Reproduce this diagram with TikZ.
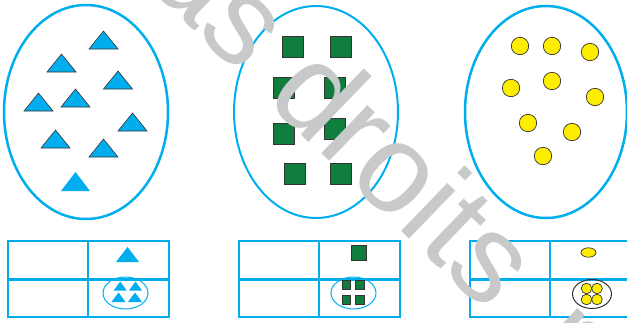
\documentclass[tikz,border=0pt]{standalone}
\usepackage{fontspec}
\newfontfamily\wmfont{Liberation Sans}
\definecolor{cy}{HTML}{00AEEF}
\definecolor{gr}{HTML}{0F7D3C}
\definecolor{ye}{HTML}{FFED00}
\definecolor{wmgray}{HTML}{C8C9CA}
\definecolor{edge}{HTML}{333333}
\tikzset{
  bigoval/.style={draw=cy, line width=2.5pt},
  tab/.style={draw=cy, line width=2.6pt},
  tri/.style={fill=cy, draw=edge, line width=0.6pt, line join=miter},
  trin/.style={fill=cy},
  sq/.style={fill=gr, draw=edge, line width=0.7pt},
  dot/.style={fill=ye, draw=edge, line width=0.7pt},
  smalloval/.style={draw=cy, line width=1pt},
  wmark/.style={text=wmgray, inner sep=0pt, font=\wmfont\fontsize{126}{126}\selectfont}
}
\newcommand\mytri[5]{\path[#1] ({#2-#4/2},#3) -- (#2,{#3-#5}) -- ({#2+#4/2},#3) -- cycle;}
\newcommand\mysq[4]{\path[#1] (#2,#3) rectangle ++(#4,#4);}
\begin{document}
\begin{tikzpicture}[x=1pt,y=-1pt]
\useasboundingbox (0,0) rectangle (627,322);
\clip (0,0) rectangle (627,322);
% ovals
\draw[bigoval] (86,112) ellipse [x radius=82, y radius=107];
\draw[bigoval, line width=2pt] (316,112) ellipse [x radius=82, y radius=106];
\draw[bigoval] (546,112) ellipse [x radius=81, y radius=106];
% triangles
\mytri{tri}{103.5}{49}{29}{18}
\mytri{tri}{61.5}{72}{29}{18}
\mytri{tri}{118}{89}{29}{18}
\mytri{tri}{38.5}{111}{29}{18}
\mytri{tri}{75.5}{107}{29}{18}
\mytri{tri}{132.5}{131}{29}{18}
\mytri{tri}{55.5}{148}{29}{18}
\mytri{tri}{103.5}{157}{29}{18}
\mytri{trin}{75.5}{191}{29}{19}
% squares
\mysq{sq}{282}{36}{21.5}
\mysq{sq}{330}{36}{21.5}
\mysq{sq}{273}{77}{21.5}
\mysq{sq}{324}{77}{21.5}
\mysq{sq}{273}{123}{21.5}
\mysq{sq}{324}{118}{21.5}
\mysq{sq}{284}{163}{21.5}
\mysq{sq}{330}{163}{21.5}
% circles
\foreach \x/\y in {520/46, 552/46, 590/52, 511/88, 552/81, 595/97, 528/123, 572/132, 543/156}
  \path[dot] (\x,\y) circle [radius=8.7];
% tables
\foreach \X in {8,239,470}{
  \draw[tab] (\X,241) rectangle ({\X+161},317);
  \draw[tab] (\X,279.5) -- ({\X+161},279.5);
  \draw[tab] ({\X+80},241) -- ({\X+80},317);
}
% table 1 contents
\mytri{trin}{127.5}{262}{23}{15}
\draw[smalloval] (125.5,293) ellipse [x radius=22.5, y radius=16];
\mytri{trin}{120.2}{290.5}{13}{9}
\mytri{trin}{135.5}{290.5}{13}{9}
\mytri{trin}{118.5}{302}{14}{9.5}
\mytri{trin}{135}{302}{14}{9.5}
% table 2 contents
\mysq{sq}{351}{245.5}{15}
\draw[smalloval] (353.5,293) ellipse [x radius=22.5, y radius=16];
\mysq{sq}{342}{280.5}{8.5}
\mysq{sq}{355.5}{280.5}{8.5}
\mysq{sq}{342}{295.5}{8.5}
\mysq{sq}{355.5}{295.5}{8.5}
% table 3 contents
\draw[fill=ye, draw=edge, line width=0.7pt] (588.5,252.5) ellipse [x radius=7.5, y radius=4.7];
\draw[draw=edge, line width=1pt] (592,294) ellipse [x radius=19.5, y radius=14.5];
\foreach \x/\y in {586.5/288.5, 597/288.5, 586.5/299.5, 597/299.5}
  \path[dot] (\x,\y) circle [radius=5.3];
% watermark
\node[wmark, rotate=-44, anchor=base west] (wm) at (144,-17.6) {as droits\hspace{19pt} r};
\end{tikzpicture}
\end{document}
